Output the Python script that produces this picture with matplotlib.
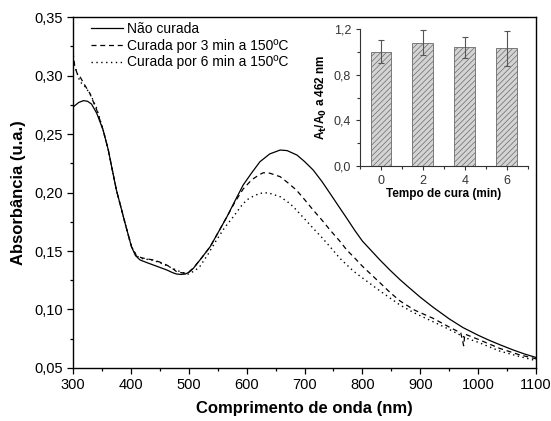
import numpy as np
import matplotlib
matplotlib.use('Agg')
import matplotlib.pyplot as plt
from matplotlib.ticker import MultipleLocator, FuncFormatter

plt.rcParams['font.family'] = ['Liberation Sans', 'DejaVu Sans']
plt.rcParams['hatch.linewidth'] = 0.5

# curva nao curada
wl_a = [300, 310, 318, 325, 332, 341, 352, 361, 368, 375, 383, 390, 401, 408, 416, 428,
        439, 450, 462, 472, 479, 487, 494, 501, 508, 522, 537, 551, 566, 580, 594, 609,
        623, 640, 658, 670, 687, 700, 715, 730, 744, 760, 773, 787, 800, 815, 830, 848,
        865, 880, 900, 922, 950, 974, 1000, 1020, 1038, 1060, 1080, 1100]
abs_a = [0.273, 0.277, 0.2785, 0.278, 0.2756, 0.2677, 0.2534, 0.2363, 0.219, 0.2021, 0.187,
         0.1737, 0.1537, 0.146, 0.1423, 0.140, 0.138, 0.136, 0.1338, 0.1315, 0.1303, 0.1300,
         0.1303, 0.132, 0.1352, 0.144, 0.1537, 0.166, 0.1793, 0.193, 0.2064, 0.217, 0.2263,
         0.233, 0.2363, 0.2358, 0.232, 0.2265, 0.2192, 0.2095, 0.1993, 0.1875, 0.178, 0.1675,
         0.1585, 0.1505, 0.1425, 0.1335, 0.1255, 0.119, 0.1105, 0.102, 0.092, 0.0845, 0.078,
         0.0735, 0.0698, 0.0655, 0.062, 0.059]

# curada 3 min
wl_b = [300, 303, 307, 312, 320, 329, 341, 352, 361, 368, 375, 383, 390, 401, 410, 420,
        439, 450, 462, 472, 479, 487, 494, 501, 508, 522, 537, 551, 566, 580, 594, 609,
        623, 629, 640, 658, 672, 686, 700, 715, 730, 744, 760, 773, 790, 800, 830, 848,
        865, 890, 922, 950, 970, 975, 977, 1000, 1037, 1070, 1100]
abs_b = [0.320, 0.308, 0.302, 0.299, 0.292, 0.2848, 0.2705, 0.2534, 0.2363, 0.219, 0.2021,
         0.187, 0.1737, 0.1537, 0.1457, 0.1440, 0.1423, 0.1405, 0.138, 0.135, 0.1323, 0.1315,
         0.131, 0.1325, 0.1355, 0.144, 0.1537, 0.166, 0.1793, 0.192, 0.203, 0.211, 0.2155,
         0.2169, 0.2165, 0.2135, 0.208, 0.2021, 0.194, 0.185, 0.1765, 0.168, 0.159, 0.1509,
         0.1423, 0.137, 0.123, 0.1145, 0.1073, 0.0995, 0.0925, 0.085, 0.080, 0.069, 0.079,
         0.0745, 0.0668, 0.0615, 0.0578]

# curada 6 min
wl_c = [300, 305, 312, 320, 330, 341, 352, 361, 368, 375, 383, 390, 401, 410, 420, 439,
        450, 462, 479, 490, 499, 510, 519, 533, 548, 562, 577, 590, 600, 612, 623, 637,
        658, 675, 686, 700, 715, 730, 744, 761, 784, 800, 830, 865, 890, 922, 950, 980,
        1000, 1037, 1070, 1100]
abs_c = [0.309, 0.305, 0.2947, 0.291, 0.284, 0.272, 0.2534, 0.2363, 0.219, 0.2021, 0.187,
         0.1737, 0.1537, 0.1457, 0.1435, 0.142, 0.140, 0.1375, 0.1335, 0.1315, 0.1303, 0.133,
         0.1366, 0.147, 0.1594, 0.170, 0.1793, 0.188, 0.1936, 0.197, 0.1993, 0.1998, 0.1964,
         0.1905, 0.185, 0.1775, 0.1694, 0.1615, 0.1537, 0.1438, 0.133, 0.127, 0.116, 0.1038,
         0.097, 0.0896, 0.083, 0.0754, 0.072, 0.0645, 0.060, 0.0563]

# inset
tempo = [0, 2, 4, 6]
razao = [1.00, 1.08, 1.04, 1.03]
erro = [0.10, 0.11, 0.09, 0.15]

virgula = FuncFormatter(lambda v, p: ('%.2f' % v).replace('.', ','))
virgula1 = FuncFormatter(lambda v, p: ('%.1f' % v).replace('.', ','))

fig = plt.figure(figsize=(5.51, 4.21), dpi=100)
ax = fig.add_axes([0.1325, 0.1259, 0.8403, 0.8337])

ax.plot(wl_a, abs_a, '-', color='black', lw=0.9, label='Não curada')
ax.plot(wl_b, abs_b, '--', color='black', lw=0.9, dashes=(4, 3), label='Curada por 3 min a 150ºC')
ax.plot(wl_c, abs_c, ':', color='black', lw=1.0, dashes=(1, 2.5), label='Curada por 6 min a 150ºC')

ax.set_xlim(300, 1100)
ax.set_ylim(0.05, 0.35)
ax.xaxis.set_major_locator(MultipleLocator(100))
ax.xaxis.set_minor_locator(MultipleLocator(50))
ax.yaxis.set_major_locator(MultipleLocator(0.05))
ax.yaxis.set_minor_locator(MultipleLocator(0.025))
ax.yaxis.set_major_formatter(virgula)
ax.tick_params(which='both', direction='out', top=False, right=False, labelsize=10.5)
ax.tick_params(which='major', length=4, width=0.9)
ax.tick_params(which='minor', length=2.5, width=0.9)
for s in ax.spines.values():
    s.set_linewidth(1.0)
ax.set_xlabel('Comprimento de onda (nm)', fontsize=12, fontweight='bold', labelpad=6)
ax.set_ylabel('Absorbância (u.a.)', fontsize=12, fontweight='bold', labelpad=6)
ax.legend(loc='upper left', frameon=False, fontsize=10, handlelength=2.3,
          handletextpad=0.35, labelspacing=0.2, borderaxespad=0.2, bbox_to_anchor=(0.02, 1.01))

ins = fig.add_axes([0.6534, 0.6057, 0.3046, 0.3254])
ins.bar(tempo, razao, width=1.0, color='#d4d4d4', edgecolor='#6a6a6a', linewidth=0.6,
        hatch='//////', yerr=erro, error_kw=dict(ecolor='#555555', elinewidth=0.8,
                                                  capsize=2, capthick=0.8))
ins.set_xlim(-1, 7)
ins.set_ylim(0, 1.2)
ins.set_xticks(tempo)
ins.xaxis.set_minor_locator(MultipleLocator(1))
ins.yaxis.set_major_locator(MultipleLocator(0.4))
ins.yaxis.set_minor_locator(MultipleLocator(0.2))
ins.yaxis.set_major_formatter(virgula1)
ins.spines['top'].set_visible(False)
ins.spines['right'].set_visible(False)
for s in ['left', 'bottom']:
    ins.spines[s].set_linewidth(0.8)
    ins.spines[s].set_color('#333333')
ins.tick_params(which='both', direction='out', labelsize=9, colors='#333333', width=0.8)
ins.tick_params(which='major', length=3)
ins.tick_params(which='minor', length=2)
ins.set_xlabel('Tempo de cura (min)', fontsize=8.5, fontweight='bold', labelpad=1)
ins.set_ylabel('A$_\\mathbf{t}$/A$_\\mathbf{0}$ a 462 nm', fontsize=8.5, fontweight='bold', labelpad=3)

fig.savefig('out.png', dpi=100)
